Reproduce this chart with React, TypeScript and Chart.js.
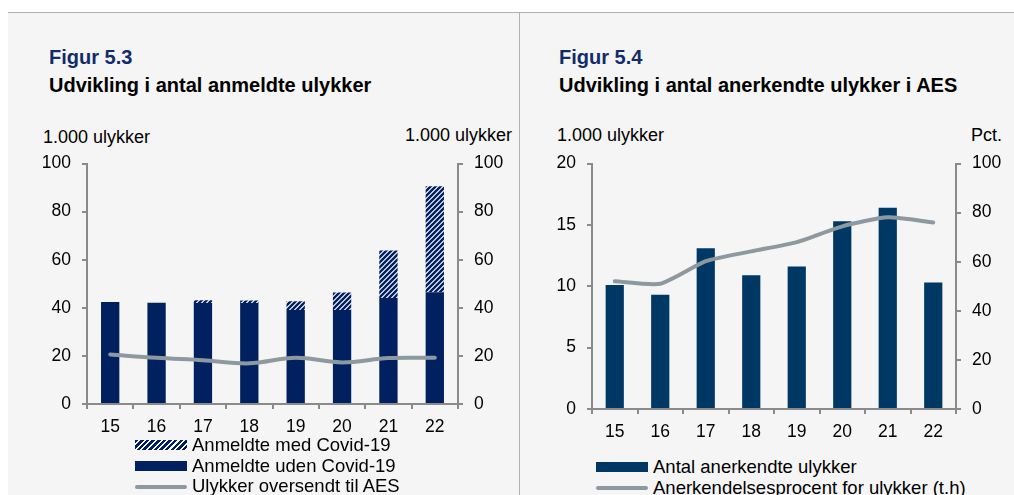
import React, { useEffect, useRef } from "react";
import { Chart, registerables } from "chart.js";

Chart.register(...registerables);

const years = ["15", "16", "17", "18", "19", "20", "21", "22"];
const udenCovid = [42.4, 42.1, 42.0, 42.0, 39.1, 39.1, 44.1, 46.5];
const medCovid = [0, 0, 1.1, 1.0, 3.6, 7.3, 19.7, 44.0];
const oversendtAES = [20.6, 19.2, 18.2, 16.9, 19.2, 17.3, 19.1, 19.2];
const anerkendte = [10.1, 9.3, 13.1, 10.9, 11.6, 15.3, 16.4, 10.3];
const anerkendelsesprocent = [52, 51, 60.2, 64.2, 68, 74.4, 78.1, 76];

const FONT = '"Liberation Sans", Arial, sans-serif';
const NAVY_L = "#00205f";
const NAVY_R = "#003865";
const LINE_GREY = "#8e999f";
const AXIS = "#8a8a8a";
const BG = "#f5f5f5";

function makeHatch(): CanvasPattern | string {
  const c = document.createElement("canvas");
  c.width = 5;
  c.height = 5;
  const ctx = c.getContext("2d");
  if (!ctx) return NAVY_L;
  ctx.fillStyle = "#ffffff";
  ctx.fillRect(0, 0, 5, 5);
  ctx.strokeStyle = NAVY_L;
  ctx.lineWidth = 2.4;
  ctx.beginPath();
  ctx.moveTo(0, 5);
  ctx.lineTo(5, 0);
  ctx.moveTo(-1, 1);
  ctx.lineTo(1, -1);
  ctx.moveTo(4, 6);
  ctx.lineTo(6, 4);
  ctx.stroke();
  return ctx.createPattern(c, "repeat") || NAVY_L;
}

const tickFont = { family: FONT, size: 17.5 };

function yAxis(min: number, max: number, step: number, pos: "left" | "right", width: number, stacked = false) {
  return {
    type: "linear" as const,
    position: pos,
    stacked,
    min,
    max,
    ticks: { stepSize: step, padding: 11, font: tickFont, color: "#000" },
    grid: { display: true, drawOnChartArea: false, drawTicks: true, tickLength: 5, color: AXIS, lineWidth: 2 },
    border: { display: true, color: AXIS, width: 2 },
    afterFit: (s: any) => {
      s.width = width;
    },
  };
}

function xAxis(height: number, stacked: boolean) {
  return {
    type: "category" as const,
    stacked,
    offset: true,
    ticks: { font: tickFont, color: "#000", padding: 8, maxRotation: 0 },
    grid: { display: true, offset: true, drawOnChartArea: false, drawTicks: true, tickLength: 5, color: AXIS, lineWidth: 2 },
    border: { display: true, color: AXIS, width: 2 },
    afterFit: (s: any) => {
      s.height = height;
    },
  };
}

function LeftChart() {
  const ref = useRef<HTMLCanvasElement | null>(null);
  useEffect(() => {
    if (!ref.current) return;
    const hatch = makeHatch();
    const chart = new Chart(ref.current, {
      type: "bar",
      data: {
        labels: years,
        datasets: [
          {
            type: "line" as const,
            label: "Ulykker oversendt til AES",
            data: oversendtAES,
            borderColor: LINE_GREY,
            borderWidth: 4,
            pointRadius: 0,
            tension: 0.35,
            borderCapStyle: "round",
            yAxisID: "y2",
            order: 0,
          } as any,
          {
            label: "Anmeldte uden Covid-19",
            data: udenCovid,
            backgroundColor: NAVY_L,
            barPercentage: 0.395,
            categoryPercentage: 1,
            yAxisID: "y",
            order: 1,
          },
          {
            label: "Anmeldte med Covid-19",
            data: medCovid,
            backgroundColor: hatch as any,
            barPercentage: 0.395,
            categoryPercentage: 1,
            yAxisID: "y",
            order: 1,
          },
        ],
      },
      options: {
        animation: false,
        responsive: false,
        devicePixelRatio: 1,
        layout: { padding: { top: 5, left: 0, right: 0, bottom: 0 } },
        plugins: { legend: { display: false }, tooltip: { enabled: false } },
        scales: {
          x: xAxis(46, true),
          y: yAxis(0, 100, 20, "left", 57, true),
          y2: yAxis(0, 100, 20, "right", 60, false),
        } as any,
      },
    });
    return () => chart.destroy();
  }, []);
  return <canvas ref={ref} width={488} height={308} style={{ position: "absolute", left: 30, top: 142, width: 488, height: 308 }} />;
}

function RightChart() {
  const ref = useRef<HTMLCanvasElement | null>(null);
  useEffect(() => {
    if (!ref.current) return;
    const chart = new Chart(ref.current, {
      type: "bar",
      data: {
        labels: years,
        datasets: [
          {
            type: "line" as const,
            label: "Anerkendelsesprocent for ulykker (t.h)",
            data: anerkendelsesprocent,
            borderColor: LINE_GREY,
            borderWidth: 4,
            pointRadius: 0,
            tension: 0.2,
            borderCapStyle: "round",
            yAxisID: "y2",
            order: 0,
          } as any,
          {
            label: "Antal anerkendte ulykker",
            data: anerkendte,
            backgroundColor: NAVY_R,
            barPercentage: 0.4,
            categoryPercentage: 1,
            yAxisID: "y",
            order: 1,
          },
        ],
      },
      options: {
        animation: false,
        responsive: false,
        devicePixelRatio: 1,
        layout: { padding: { top: 4, left: 0, right: 0, bottom: 0 } },
        plugins: { legend: { display: false }, tooltip: { enabled: false } },
        scales: {
          x: xAxis(41, false),
          y: yAxis(0, 20, 5, "left", 62),
          y2: yAxis(0, 100, 20, "right", 58),
        } as any,
      },
    });
    return () => chart.destroy();
  }, []);
  return <canvas ref={ref} width={484} height={308} style={{ position: "absolute", left: 530, top: 142, width: 484, height: 308 }} />;
}

function Txt(props: { x: number; cy: number; size: number; text: string; bold?: boolean; color?: string; align?: "left" | "right"; w?: number }) {
  const { x, cy, size, text, bold, color, align, w } = props;
  const style: React.CSSProperties = {
    position: "absolute",
    top: cy - size / 2,
    fontFamily: FONT,
    fontSize: size,
    lineHeight: `${size}px`,
    fontWeight: bold ? "bold" : "normal",
    color: color || "#000",
    whiteSpace: "nowrap",
  };
  if (align === "right") {
    style.left = x - (w || 200);
    style.width = w || 200;
    style.textAlign = "right";
  } else {
    style.left = x;
  }
  return <div style={style}>{text}</div>;
}

function Swatch(props: { x: number; cy: number; kind: "bar" | "hatch" | "line"; color: string }) {
  const { x, cy, kind, color } = props;
  if (kind === "line") {
    return <div style={{ position: "absolute", left: x, top: cy - 2, width: 52, height: 4, borderRadius: 2, background: color }} />;
  }
  const bg = kind === "hatch" ? `repeating-linear-gradient(135deg, ${color} 0px, ${color} 2.4px, #ffffff 2.4px, #ffffff 4px)` : color;
  return <div style={{ position: "absolute", left: x, top: cy - 5, width: 52, height: 10, background: bg }} />;
}

export default function App() {
  useEffect(() => {
    document.body.style.margin = "0";
    document.body.style.overflow = "hidden";
  }, []);
  return (
    <div style={{ position: "absolute", left: 0, top: 0, width: 1014, height: 495, overflow: "hidden", background: "#ffffff" }}>
      <div style={{ position: "absolute", left: 8, top: 12, width: 1006, height: 483, background: BG, borderTop: "1px solid #b2b2b2" }} />
      <div style={{ position: "absolute", left: 519, top: 12, width: 1, height: 483, background: "#b2b2b2" }} />

      <Txt x={49} cy={56.5} size={20} bold color="#112b6b" text="Figur 5.3" />
      <Txt x={49} cy={84.5} size={20} bold text="Udvikling i antal anmeldte ulykker" />
      <Txt x={559} cy={56.5} size={20} bold color="#112b6b" text="Figur 5.4" />
      <Txt x={559} cy={84.5} size={20} bold text="Udvikling i antal anerkendte ulykker i AES" />

      <Txt x={43} cy={137} size={18} text="1.000 ulykker" />
      <Txt x={512} cy={135} size={18} align="right" w={150} text="1.000 ulykker" />
      <Txt x={557} cy={135} size={18} text="1.000 ulykker" />
      <Txt x={1002} cy={135} size={18} align="right" w={80} text="Pct." />

      <LeftChart />
      <RightChart />

      <Swatch x={135} cy={445} kind="hatch" color={NAVY_L} />
      <Txt x={192} cy={445} size={18.5} text="Anmeldte med Covid-19" />
      <Swatch x={135} cy={466} kind="bar" color={NAVY_L} />
      <Txt x={192} cy={466} size={18.5} text="Anmeldte uden Covid-19" />
      <Swatch x={135} cy={486.5} kind="line" color={LINE_GREY} />
      <Txt x={192} cy={486.5} size={18.5} text="Ulykker oversendt til AES" />

      <Swatch x={596} cy={467} kind="bar" color={NAVY_R} />
      <Txt x={653} cy={467} size={18.5} text="Antal anerkendte ulykker" />
      <Swatch x={596} cy={488} kind="line" color={LINE_GREY} />
      <Txt x={653} cy={488} size={18.5} text="Anerkendelsesprocent for ulykker (t.h)" />
    </div>
  );
}
